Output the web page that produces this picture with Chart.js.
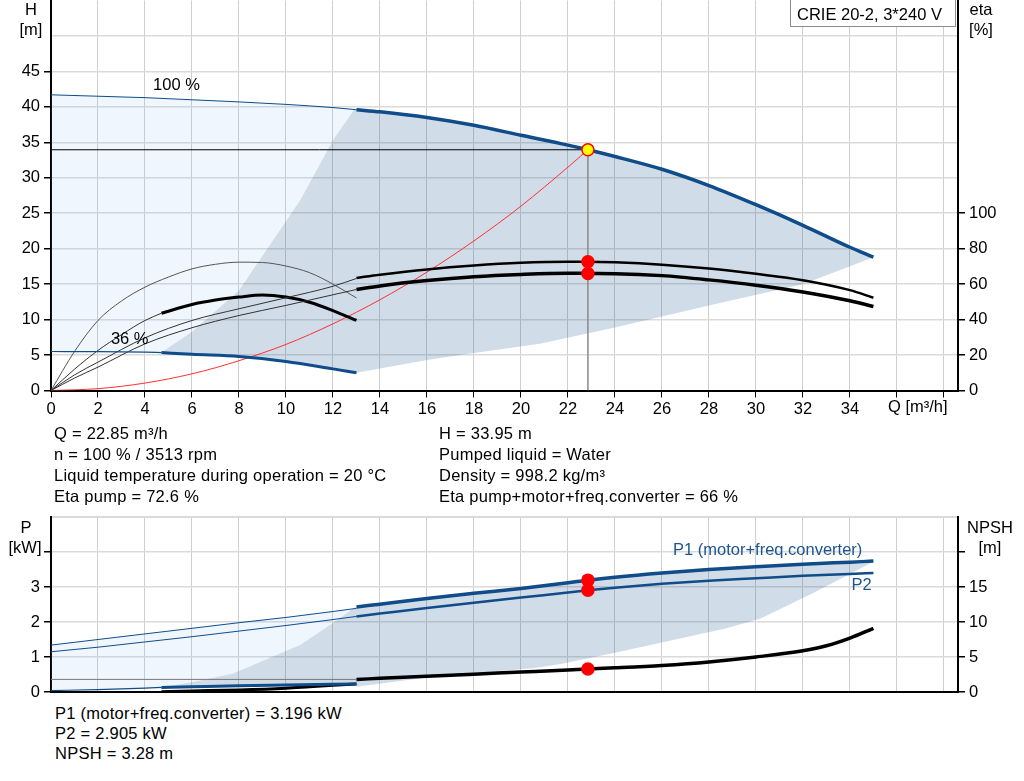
<!DOCTYPE html>
<html>
<head>
<meta charset="utf-8">
<title>CRIE 20-2 pump curves</title>
<script src="https://cdn.jsdelivr.net/npm/chart.js@4.4.1/dist/chart.umd.min.js"></script>
<style>
  body { margin: 0; background: #fff; }
  #page { position: relative; width: 1024px; height: 781px; overflow: hidden; font-family: "Liberation Sans", Arial, sans-serif; color: #000; }
  canvas { position: absolute; left: 0; }
  .t { position: absolute; font-size: 16.5px; line-height: 21px; white-space: nowrap; }
  .info { letter-spacing: 0.25px; }
  .c { text-align: center; }
  #model { position: absolute; left: 790px; top: -1px; width: 166px; height: 28px; border: 1px solid #8c8c8c; background: #fff; font-size: 16.5px; line-height: 28px; padding-left: 6px; box-sizing: border-box; }
</style>
</head>
<body>
<div id="page">
  <canvas id="headChart" width="1024" height="440" style="top:0"></canvas>
  <canvas id="powerChart" width="1024" height="200" style="top:500px"></canvas>

  <div class="t c" style="left:16px;top:-1px;width:30px">H</div>
  <div class="t c" style="left:11px;top:19px;width:40px">[m]</div>
  <div class="t c" style="left:961px;top:-1px;width:40px">eta</div>
  <div class="t c" style="left:961px;top:19px;width:40px">[%]</div>
  <div id="model">CRIE 20-2, 3*240 V</div>
  <div class="t" style="left:888px;top:396px">Q [m³/h]</div>

  <div class="t info" style="left:54px;top:423px">Q = 22.85 m³/h<br>n = 100 % / 3513 rpm<br>Liquid temperature during operation = 20 °C<br>Eta pump = 72.6 %</div>
  <div class="t info" style="left:439px;top:423px">H = 33.95 m<br>Pumped liquid = Water<br>Density = 998.2 kg/m³<br>Eta pump+motor+freq.converter = 66 %</div>

  <div class="t c" style="left:11px;top:517px;width:30px">P</div>
  <div class="t c" style="left:2px;top:537px;width:46px">[kW]</div>
  <div class="t c" style="left:964px;top:517px;width:52px">NPSH</div>
  <div class="t c" style="left:970px;top:537px;width:40px">[m]</div>

  <div class="t info" style="left:55px;top:703px;line-height:20px">P1 (motor+freq.converter) = 3.196 kW<br>P2 = 2.905 kW<br>NPSH = 3.28 m</div>
</div>

<script>
'use strict';

/* --------------------------------------------------------------------------
   DATA
   -------------------------------------------------------------------------- */
const xTicks = [0, 2, 4, 6, 8, 10, 12, 14, 16, 18, 20, 22, 24, 26, 28, 30, 32, 34, 36, 38];
const hTicks = [0, 5, 10, 15, 20, 25, 30, 35, 40, 45, 50, 55];
const etaTicks = [0, 20, 40, 60, 80, 100];
const pTicks = [0, 1, 2, 3, 4, 5];
const npshTicks = [0, 5, 10, 15, 20];

// duty point
const opQ = 22.85, opH = 33.95, opEtaPump = 72.6, opEtaTotal = 66;
const opP1 = 3.196, opP2 = 2.905, opNpsh = 3.28;

// head, 100 % speed
const qH100Thin = [0, 2, 4, 6, 8, 10, 12, 13];
const hH100Thin = [41.7, 41.5, 41.3, 41.0, 40.7, 40.35, 39.9, 39.6];
const qH100 = [13, 14, 16, 18, 20, 22, 22.85, 24, 26, 28, 30, 32, 34, 35];
const hH100 = [39.6, 39.3, 38.5, 37.4, 36.0, 34.6, 33.95, 33.0, 31.2, 28.9, 26.2, 23.3, 20.2, 18.8];

// head, 36 % speed
const qH36Thin = [0, 2, 4, 4.7];
const hH36Thin = [5.5, 5.47, 5.4, 5.35];
const qH36 = [4.7, 6, 8, 10, 12, 13];
const hH36 = [5.35, 5.1, 4.8, 4.1, 3.05, 2.5];

// operating range boundaries (head)
const qRangeLeft = [4.7, 6, 8, 9.74, 10.6, 12, 12.9];
const hRangeLeft = [5.35, 8.3, 14.1, 22.6, 26.8, 35.3, 39.6];
const qRangeLow = [13, 16, 18, 20.8, 24, 28, 32, 35];
const hRangeLow = [2.5, 4.3, 5.3, 6.6, 8.9, 12.0, 15.0, 18.8];

// system curve
const qSystem = [0, 2, 4, 6, 8, 10, 12, 14, 16, 18, 20, 22, 22.85];
const hSystem = [0, 0.26, 1.05, 2.35, 4.2, 6.5, 9.4, 12.8, 16.7, 21.1, 26.0, 31.5, 33.95];

// efficiency, 100 % speed
const qEta100Thin = [0, 1, 2, 4, 6, 8, 10, 12, 13];
const etaPump100Thin = [0, 8.8, 16, 29.7, 39.5, 46.1, 52.3, 58.8, 63.2];
const etaTotal100Thin = [0, 7, 13.2, 26.3, 35.4, 42.3, 48, 54, 57];
const qEta100 = [13, 14, 16, 18, 20, 22, 22.85, 24, 26, 28, 30, 32, 34, 35];
const etaPump100 = [63.5, 65.3, 68.3, 70.5, 72.0, 72.6, 72.6, 72.3, 71.0, 68.8, 65.8, 62.2, 56.6, 52.3];
const etaTotal100 = [57.0, 59.0, 62.0, 64.2, 65.5, 66.2, 66.0, 65.9, 64.8, 62.4, 59.4, 55.6, 50.6, 47.4];

// efficiency, 36 % speed
const qEtaPump36 = [0, 1, 2, 3, 4, 5, 6, 7, 8, 9, 10, 11, 12, 13];
const etaPump36 = [0, 22, 39.5, 50.5, 58.3, 64, 68.6, 71.2, 72.4, 72.2, 70.2, 66.5, 60, 52.2];
const qEtaTotal36Thin = [0, 1, 2, 3, 4, 4.7];
const etaTotal36Thin = [0, 12, 22.6, 31.5, 39.5, 43.6];
const qEtaTotal36 = [4.7, 6, 7, 8, 9, 10, 11, 12, 13];
const etaTotal36 = [43.6, 48.5, 51, 52.7, 53.9, 52.7, 49.8, 45.1, 39.5];

// power, 100 % speed
const qP100Thin = [0, 2, 4, 6, 8, 10, 12, 13];
const p1Thin = [1.34, 1.50, 1.66, 1.82, 1.98, 2.13, 2.30, 2.39];
const p2Thin = [1.15, 1.28, 1.43, 1.58, 1.74, 1.90, 2.07, 2.16];
const qP100 = [13, 14, 16, 18, 20, 22, 22.85, 24, 26, 28, 30, 32, 34, 35];
const p1 = [2.43, 2.51, 2.67, 2.82, 2.96, 3.12, 3.196, 3.28, 3.40, 3.50, 3.58, 3.65, 3.71, 3.74];
const p2 = [2.16, 2.24, 2.40, 2.55, 2.70, 2.84, 2.905, 2.98, 3.09, 3.18, 3.25, 3.32, 3.37, 3.40];

// power, 36 % speed
const qP36Thin = [0, 2, 4, 4.7];
const p36Thin = [0.04, 0.07, 0.11, 0.13];
const qP36 = [4.7, 6, 8, 10, 12, 13];
const p36 = [0.13, 0.15, 0.18, 0.20, 0.22, 0.23];

// NPSH
const qNpshThin = [0, 13];
const npshThin = [1.8, 1.8];
const qNpsh = [13, 14, 16, 18, 20, 22, 22.85, 24, 26, 28, 30, 32, 33, 34, 35];
const npsh = [1.8, 1.95, 2.25, 2.55, 2.85, 3.15, 3.28, 3.45, 3.8, 4.3, 5.0, 5.9, 6.6, 7.7, 9.1];
const qNpsh36 = [4.7, 6, 8, 10, 11, 12, 13];
const npsh36 = [0.05, 0.15, 0.3, 0.55, 0.75, 0.95, 1.15];

// operating range boundaries (power)
const qPRangeLeft = [4.7, 6, 7.75, 10.6, 12, 12.9];
const pRangeLeft = [0.13, 0.28, 0.53, 1.34, 1.97, 2.4];
const qPRangeLow = [13, 16.3, 20.5, 21.7, 24.2, 28.75, 30.2, 32.5, 35];
const pRangeLow = [0.15, 0.44, 0.68, 0.8, 1.15, 1.82, 2.1, 2.85, 3.72];

/* --------------------------------------------------------------------------
   STYLE + HELPERS
   -------------------------------------------------------------------------- */
const BLUE = '#0f4c89';
const FONT = { family: '"Liberation Sans", Arial, sans-serif', size: 16.5 };
const X_MAX = 38.6;
const DARK_FILL = 'rgba(20,80,140,0.2)';
const LIGHT_FILL = 'rgba(120,180,240,0.12)';
const HEAD_PLOT_BOTTOM = 390;   // page y of the head chart x axis
const HEAD_XAXIS_H = 30;

Chart.defaults.font.family = FONT.family;
Chart.defaults.font.size = FONT.size;
Chart.defaults.color = '#000';

const pts = (qs, vs) => qs.map((q, i) => ({ x: q, y: vs[i] }));
const rev = a => a.slice().reverse();

function curve(qs, vs, color, width, axis) {
    return {
        data: pts(qs, vs), yAxisID: axis, borderColor: color, borderWidth: width,
        pointRadius: 0, fill: false, cubicInterpolationMode: 'monotone', order: 2,
    };
}

function area(points, color, axis) {
    return {
        data: points, yAxisID: axis, borderWidth: 0, borderColor: 'transparent',
        backgroundColor: color, pointRadius: 0, fill: 'shape', tension: 0, order: 3,
    };
}

function dots(points, fillColor, borderColor, axis) {
    return {
        data: points, yAxisID: axis, showLine: false, pointRadius: 6, pointHoverRadius: 6,
        pointBackgroundColor: fillColor, pointBorderColor: borderColor, pointBorderWidth: 1.5, order: 1,
    };
}

const tickList = list => scale => { scale.ticks = list.map(v => ({ value: v })); };

function xScale(showLabels) {
    return {
        type: 'linear', min: 0, max: X_MAX,
        afterBuildTicks: tickList(xTicks),
        afterFit: s => { s.height = showLabels ? HEAD_XAXIS_H : 8; s.paddingLeft = 0; s.paddingRight = 0; },
        ticks: { display: showLabels, autoSkip: false, maxRotation: 0, padding: 2, callback: v => (v <= 34 ? v : '') },
        grid: { color: '#cfcfcf', lineWidth: 1, tickColor: '#000', tickLength: 7, drawTicks: showLabels },
        border: { color: '#000', width: 2 },
    };
}

function yScale(pos, max, ticks, labelMax, markMax, drawGrid) {
    return {
        type: 'linear', position: pos, min: 0, max: max,
        afterBuildTicks: tickList(ticks),
        afterFit: s => { s.width = pos === 'left' ? 51 : 66; s.paddingTop = 0; s.paddingBottom = 0; },
        ticks: { padding: 4, callback: v => (v <= labelMax ? v : '') },
        grid: {
            drawOnChartArea: drawGrid,
            color: c => (c.tick && c.tick.value === max && max > 20 ? 'rgba(0,0,0,0)' : '#dadada'),
            lineWidth: c => (c.tick && c.tick.value === max ? 2 : 1.5),
            tickColor: c => (c.tick && c.tick.value <= markMax ? '#000' : 'rgba(0,0,0,0)'),
            tickLength: 7, tickWidth: 1.5,
        },
        border: { color: '#000', width: 2 },
    };
}

// text placed at data coordinates inside the plot
const curveLabels = {
    id: 'curveLabels',
    afterDatasetsDraw(chart, args, opts) {
        const ctx = chart.ctx;
        ctx.save();
        ctx.font = FONT.size + 'px ' + FONT.family;
        ctx.textAlign = 'center';
        ctx.textBaseline = 'middle';
        (opts.items || []).forEach(it => {
            ctx.fillStyle = it.color;
            ctx.fillText(it.text, chart.scales.x.getPixelForValue(it.q), chart.scales[it.axis].getPixelForValue(it.v));
        });
        ctx.restore();
    },
};

function baseOptions(padding, labels, scales) {
    return {
        responsive: false, animation: false, events: [],
        layout: { padding: padding },
        plugins: { legend: { display: false }, tooltip: { enabled: false }, curveLabels: { items: labels } },
        scales: scales,
    };
}

/* --------------------------------------------------------------------------
   HEAD / EFFICIENCY CHART
   -------------------------------------------------------------------------- */
const rangeShape = [].concat(
    pts(qRangeLeft, hRangeLeft), pts(qH100, hH100),
    rev(pts(qRangeLow, hRangeLow)), rev(pts(qH36, hH36))
);
const lightShape = [].concat(
    pts(qH100Thin, hH100Thin), rev(pts(qRangeLeft, hRangeLeft)), rev(pts(qH36Thin, hH36Thin))
);

const headCanvas = document.getElementById('headChart');
const headChart = new Chart(headCanvas, {
    type: 'line',
    data: {
        datasets: [
            area(lightShape, LIGHT_FILL, 'h'),
            area(rangeShape, DARK_FILL, 'h'),
            curve(qH100Thin, hH100Thin, BLUE, 1, 'h'),
            curve(qH100, hH100, BLUE, 3.5, 'h'),
            curve(qH36Thin, hH36Thin, BLUE, 1.2, 'h'),
            curve(qH36, hH36, BLUE, 3, 'h'),
            curve(qEta100Thin, etaPump100Thin, '#333', 1, 'eta'),
            curve(qEta100, etaPump100, '#000', 2.5, 'eta'),
            curve(qEta100Thin, etaTotal100Thin, '#333', 1, 'eta'),
            curve(qEta100, etaTotal100, '#000', 3.5, 'eta'),
            curve(qEtaPump36, etaPump36, '#555', 1, 'eta'),
            curve(qEtaTotal36Thin, etaTotal36Thin, '#333', 1, 'eta'),
            curve(qEtaTotal36, etaTotal36, '#000', 3, 'eta'),
            curve(qSystem, hSystem, '#ff3030', 1, 'h'),
            curve([0, opQ], [opH, opH], '#000', 1, 'h'),
            curve([opQ, opQ], [0, opH], '#8a8a8a', 1.5, 'h'),
            dots([{ x: opQ, y: opH }], '#ffff00', '#ff0000', 'h'),
            dots([{ x: opQ, y: opEtaPump }, { x: opQ, y: opEtaTotal }], '#ff0000', '#ff0000', 'eta'),
        ],
    },
    options: baseOptions({ top: 0, bottom: 0 }, [
        { text: '100 %', q: 5.34, v: 43.0, axis: 'h', color: '#000' },
        { text: '36 %', q: 3.35, v: 7.15, axis: 'h', color: '#000' },
    ], {
        x: xScale(true),
        h: yScale('left', 55, hTicks, 45, 45, true),
        eta: yScale('right', 220, etaTicks, 100, 100, false),
    }),
    plugins: [curveLabels],
});

// Chart.js reserves a little room above the plot; shift the canvas up so the
// plot starts at the page top and its x axis lands on HEAD_PLOT_BOTTOM.
const headTop = headChart.chartArea.top;
headChart.options.layout.padding = {
    top: 0,
    bottom: headCanvas.height - HEAD_XAXIS_H - HEAD_PLOT_BOTTOM - headTop,
};
headChart.update();
headCanvas.style.top = (-headTop) + 'px';

/* --------------------------------------------------------------------------
   POWER / NPSH CHART
   -------------------------------------------------------------------------- */
const pRangeShape = [].concat(
    pts(qPRangeLeft, pRangeLeft), pts(qP100, p1),
    rev(pts(qPRangeLow, pRangeLow)), rev(pts(qP36, p36))
);
const pLightShape = [].concat(
    pts(qP100Thin, p1Thin), rev(pts(qPRangeLeft, pRangeLeft)), rev(pts(qP36Thin, p36Thin))
);

new Chart(document.getElementById('powerChart'), {
    type: 'line',
    data: {
        datasets: [
            area(pLightShape, LIGHT_FILL, 'p'),
            area(pRangeShape, DARK_FILL, 'p'),
            curve(qP100Thin, p1Thin, BLUE, 1, 'p'),
            curve(qP100, p1, BLUE, 3.5, 'p'),
            curve(qP100Thin, p2Thin, BLUE, 1, 'p'),
            curve(qP100, p2, BLUE, 2.5, 'p'),
            curve(qP36Thin, p36Thin, BLUE, 1.2, 'p'),
            curve(qP36, p36, BLUE, 3, 'p'),
            curve(qNpshThin, npshThin, '#777', 1, 'npsh'),
            curve(qNpsh, npsh, '#000', 3.5, 'npsh'),
            curve(qNpsh36, npsh36, '#000', 3, 'npsh'),
            dots([{ x: opQ, y: opP1 }, { x: opQ, y: opP2 }], '#ff0000', '#ff0000', 'p'),
            dots([{ x: opQ, y: opNpsh }], '#ff0000', '#ff0000', 'npsh'),
        ],
    },
    options: baseOptions({ top: 17 }, [
        { text: 'P1 (motor+freq.converter)', q: 30.5, v: 4.04, axis: 'p', color: '#1a5591' },
        { text: 'P2', q: 34.5, v: 3.03, axis: 'p', color: '#1a5591' },
    ], {
        x: xScale(false),
        p: yScale('left', 5, pTicks, 3, 4, true),
        npsh: yScale('right', 25, npshTicks, 15, 20, false),
    }),
    plugins: [curveLabels],
});
</script>
</body>
</html>
